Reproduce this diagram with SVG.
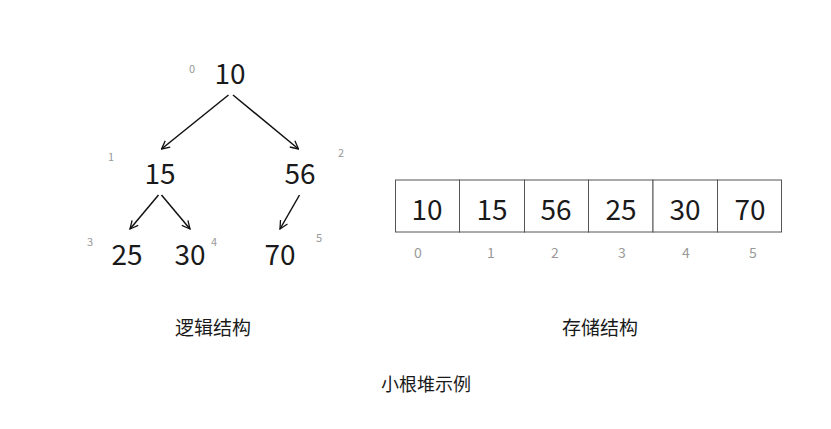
<svg xmlns="http://www.w3.org/2000/svg" width="831" height="429" viewBox="0 0 831 429">
<style>
.num{font-family:"Noto Sans CJK SC","Noto Sans",sans-serif;font-size:28px;fill:#1a1a1a;text-anchor:middle}
.idx{font-family:"Noto Sans CJK SC","Noto Sans",sans-serif;font-size:11px;fill:#999;text-anchor:middle}
.aidx{font-family:"Noto Sans CJK SC","Noto Sans",sans-serif;font-size:14px;fill:#999;text-anchor:middle}
.lbl{font-family:"Noto Sans CJK SC",sans-serif;font-size:18px;fill:#1a1a1a;text-anchor:middle}
.edge{stroke:#111;stroke-width:1.5;fill:none;marker-end:url(#arr)}
.cell{fill:#fff;stroke:#555;stroke-width:1}
</style>
<defs>
<marker id="arr" viewBox="0 0 10 10" refX="9" refY="5" markerWidth="10" markerHeight="10" markerUnits="userSpaceOnUse" orient="auto">
<path d="M1,1 L9,5 L1,9" fill="none" stroke="#111" stroke-width="1.3"/>
</marker>
</defs>
<rect width="831" height="429" fill="#fff"/>
<g id="connectors">
<line class="edge" x1="228.5" y1="95" x2="161.5" y2="149"/>
<line class="edge" x1="233" y1="95" x2="298.5" y2="149"/>
<line class="edge" x1="158.5" y1="195" x2="130" y2="229"/>
<line class="edge" x1="161.5" y1="195" x2="190" y2="229"/>
<line class="edge" x1="299.5" y1="195" x2="280" y2="229"/>
</g>
<g id="n0"><text class="num" x="230" y="84">10</text><text class="idx" x="192" y="73">0</text></g>
<g id="n1"><text class="num" x="160" y="184">15</text><text class="idx" x="111" y="161">1</text></g>
<g id="n2"><text class="num" x="300" y="184">56</text><text class="idx" x="341" y="157">2</text></g>
<g id="n3"><text class="num" x="127" y="265">25</text><text class="idx" x="90" y="246">3</text></g>
<g id="n4"><text class="num" x="190" y="265">30</text><text class="idx" x="214" y="246">4</text></g>
<g id="n5"><text class="num" x="280" y="265">70</text><text class="idx" x="319" y="242">5</text></g>
<g id="array">
<rect class="cell" x="395.5" y="180" width="64" height="52"/>
<rect class="cell" x="459.5" y="180" width="65" height="52"/>
<rect class="cell" x="524.5" y="180" width="64" height="52"/>
<rect class="cell" x="588.5" y="180" width="64.5" height="52"/>
<rect class="cell" x="653" y="180" width="64.5" height="52"/>
<rect class="cell" x="717.5" y="180" width="64" height="52"/>
<text class="num" x="427" y="220">10</text>
<text class="num" x="492" y="220">15</text>
<text class="num" x="556" y="220">56</text>
<text class="num" x="621" y="220">25</text>
<text class="num" x="685" y="220">30</text>
<text class="num" x="750" y="220">70</text>
<text class="aidx" x="418" y="258">0</text>
<text class="aidx" x="491" y="258">1</text>
<text class="aidx" x="555" y="258">2</text>
<text class="aidx" x="622" y="258">3</text>
<text class="aidx" x="686" y="258">4</text>
<text class="aidx" x="753" y="258">5</text>
</g>
<text class="lbl" x="213" y="335" style="font-size:19px">逻辑结构</text>
<text class="lbl" x="600" y="335" style="font-size:19px">存储结构</text>
<text class="lbl" x="426" y="391">小根堆示例</text>
</svg>
